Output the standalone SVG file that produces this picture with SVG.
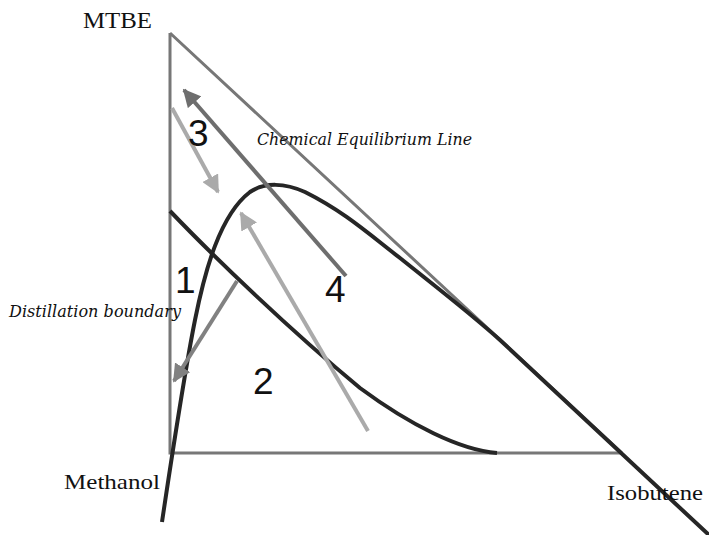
<svg xmlns="http://www.w3.org/2000/svg" width="709" height="535" viewBox="0 0 709 535">
<style>
.tri{fill:none;stroke:#777;stroke-width:3}
.crv{fill:none;stroke:#262626;stroke-width:4;stroke-linecap:butt}
.lab{font-family:"Liberation Serif",serif;fill:#111}
.it{font-family:"DejaVu Serif","Liberation Serif",serif;font-style:italic;fill:#111}
.num{font-family:"Liberation Sans",Arial,sans-serif;font-size:37px;fill:#111}
</style>
<defs>
<marker id="ahD" viewBox="0 0 10 10" refX="9" refY="5" markerWidth="4.5" markerHeight="4.5" orient="auto" markerUnits="strokeWidth"><path d="M0,0 L10,5 L0,10 z" fill="#6e6e6e"/></marker>
<marker id="ahL" viewBox="0 0 10 10" refX="9" refY="5" markerWidth="4.5" markerHeight="4.5" orient="auto" markerUnits="strokeWidth"><path d="M0,0 L10,5 L0,10 z" fill="#aaa"/></marker>
<marker id="ahM" viewBox="0 0 10 10" refX="9" refY="5" markerWidth="4.5" markerHeight="4.5" orient="auto" markerUnits="strokeWidth"><path d="M0,0 L10,5 L0,10 z" fill="#818181"/></marker>
</defs>
<g id="triangle">
<path class="tri" d="M170,33 L170,453 L622,453 M170,33 L622,453"/>
</g>
<g id="curves">
<path id="equilibrium-curve" class="crv" d="M162,522 C172,455 185,370 195,320 C205,270 220,215 250,192 C265,182 285,183 305,192 C345,212 370,235 400,258 C440,290 470,313 500,340 L709,535"/>
<path id="distillation-boundary" class="crv" d="M170,211 C215,258 290,330 360,388 C410,425 460,450 497,453"/>
</g>
<g id="connectors">
<line x1="346" y1="276" x2="184" y2="90" stroke="#6e6e6e" stroke-width="4" marker-end="url(#ahD)"/>
<line x1="172" y1="108" x2="218" y2="192" stroke="#aaa" stroke-width="4" marker-end="url(#ahL)"/>
<line x1="368" y1="431" x2="241" y2="213" stroke="#aaa" stroke-width="4" marker-end="url(#ahL)"/>
<line x1="237" y1="281" x2="174" y2="381" stroke="#818181" stroke-width="4" marker-end="url(#ahM)"/>
</g>
<g id="labels">
<text class="lab" x="83" y="28" font-size="24" textLength="69" lengthAdjust="spacingAndGlyphs">MTBE</text>
<text class="lab" x="64" y="489" font-size="22" textLength="96" lengthAdjust="spacingAndGlyphs">Methanol</text>
<text class="lab" x="607" y="500" font-size="22" textLength="96" lengthAdjust="spacingAndGlyphs">Isobutene</text>
<text class="it" x="257" y="145" font-size="17" textLength="215" lengthAdjust="spacingAndGlyphs">Chemical Equilibrium Line</text>
<text class="it" x="9" y="317" font-size="17" textLength="172" lengthAdjust="spacingAndGlyphs">Distillation boundary</text>
<text class="num" x="188" y="146">3</text>
<text class="num" x="175" y="293">1</text>
<text class="num" x="325" y="302">4</text>
<text class="num" x="253" y="394">2</text>
</g>
</svg>
